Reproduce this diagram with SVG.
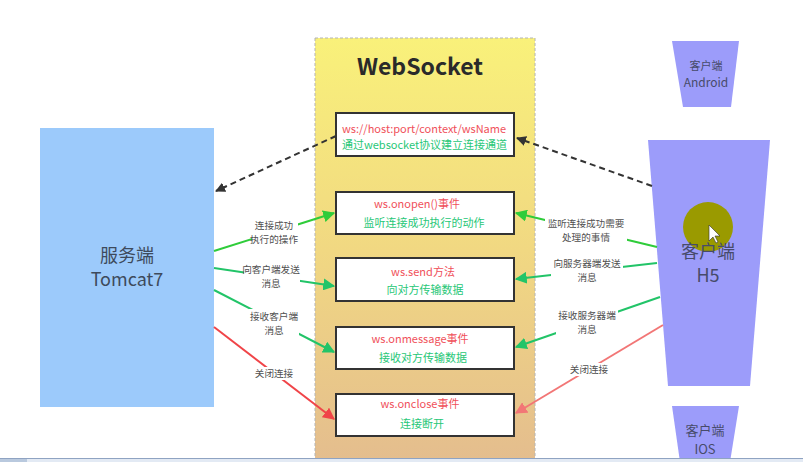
<svg xmlns="http://www.w3.org/2000/svg" width="803" height="462" viewBox="0 0 803 462">
<defs>
<linearGradient id="wsGrad" x1="0" y1="0" x2="0" y2="1">
<stop offset="0" stop-color="#f9f17a"/>
<stop offset="0.5" stop-color="#f1d882"/>
<stop offset="1" stop-color="#e4bd8e"/>
</linearGradient>
<marker id="aBlack" viewBox="0 0 10 10" refX="9" refY="5" markerWidth="5" markerHeight="5" orient="auto" markerUnits="strokeWidth"><path d="M0,0 L10,5 L0,10 z" fill="#333"/></marker>
<marker id="aGreen" viewBox="0 0 10 10" refX="9" refY="5" markerWidth="6" markerHeight="6" orient="auto" markerUnits="strokeWidth"><path d="M0,0 L10,5 L0,10 z" fill="#2fcc3a"/></marker>
<marker id="aTeal" viewBox="0 0 10 10" refX="9" refY="5" markerWidth="6" markerHeight="6" orient="auto" markerUnits="strokeWidth"><path d="M0,0 L10,5 L0,10 z" fill="#22c468"/></marker>
<marker id="aRed" viewBox="0 0 10 10" refX="9" refY="5" markerWidth="6" markerHeight="6" orient="auto" markerUnits="strokeWidth"><path d="M0,0 L10,5 L0,10 z" fill="#f04448"/></marker>
<marker id="aPink" viewBox="0 0 10 10" refX="9" refY="5" markerWidth="6" markerHeight="6" orient="auto" markerUnits="strokeWidth"><path d="M0,0 L10,5 L0,10 z" fill="#f27676"/></marker>
</defs>
<style>
text{font-family:"Noto Sans CJK SC","Noto Sans",sans-serif;}
.box{fill:#fff;stroke:#333;stroke-width:2;}
.red{fill:#f0505a;font-size:11px;text-anchor:middle;}
.grn{fill:#27c777;font-size:11px;text-anchor:middle;}
.lbl{fill:#505050;font-size:9.6px;text-anchor:middle;}
.client{fill:#9c9cfa;}
.ctext{fill:#474b6a;text-anchor:middle;}
.dash{stroke:#333;stroke-width:2;stroke-dasharray:6,4;fill:none;marker-end:url(#aBlack);}
.g1{stroke:#2fcc3a;stroke-width:2;fill:none;marker-end:url(#aGreen);}
.g2{stroke:#22c468;stroke-width:2;fill:none;marker-end:url(#aTeal);}
.r1{stroke:#f04448;stroke-width:2;fill:none;marker-end:url(#aRed);}
.r2{stroke:#f27676;stroke-width:2;fill:none;marker-end:url(#aPink);}
.bg{fill:#fff;}
</style>
<rect width="803" height="462" fill="#fff"/>

<g id="websocket">
<rect x="315" y="38" width="220" height="424" fill="url(#wsGrad)" stroke="#b4b4b4" stroke-width="1" stroke-dasharray="3,2"/>
<text x="420" y="75" text-anchor="middle" font-size="23" font-weight="bold" fill="#2a2a2a">WebSocket</text>
</g>

<g id="server">
<rect x="40" y="128" width="174" height="279" fill="#9ccafb"/>
<text x="127" y="262" text-anchor="middle" font-size="18" fill="#3e4a5c">服务端</text>
<text x="127" y="286" text-anchor="middle" font-size="18" fill="#3e4a5c">Tomcat7</text>
</g>

<g id="android">
<polygon class="client" points="672,41 739,41 731,107 683,107"/>
<text class="ctext" x="706" y="70" font-size="11">客户端</text>
<text class="ctext" x="706" y="87" font-size="12">Android</text>
</g>

<g id="h5">
<polygon class="client" points="648,140 770,140 750,386 668,386"/>
<circle cx="708" cy="227" r="25" fill="#9a9a00"/>
<polygon points="709,225 709,241 713,237 716,243 718,242 715,236 720,236" fill="#fff" stroke="#333" stroke-width="0.6"/>
<text class="ctext" x="708" y="258" font-size="18">客户端</text>
<text class="ctext" x="708" y="282" font-size="18">H5</text>
</g>

<g id="ios">
<polygon class="client" points="672,406 739,406 730,462 680,462"/>
<text class="ctext" x="705" y="435" font-size="13">客户端</text>
<text class="ctext" x="705" y="454" font-size="13">IOS</text>
</g>

<g id="connectors">
<line class="dash" x1="336" y1="136" x2="216" y2="191"/>
<line class="dash" x1="652" y1="186" x2="517" y2="138"/>

<line class="g1" x1="214" y1="251" x2="334" y2="213"/>
<line class="g2" x1="214" y1="268" x2="334" y2="286"/>
<line class="g2" x1="214" y1="290" x2="334" y2="352"/>
<line class="r1" x1="214" y1="327" x2="334" y2="419"/>

<line class="g1" x1="657" y1="247" x2="516" y2="213"/>
<line class="g2" x1="657" y1="263" x2="516" y2="279"/>
<line class="g2" x1="660" y1="297" x2="516" y2="347"/>
<line class="r2" x1="663" y1="325" x2="516" y2="413"/>

<rect class="bg" x="252" y="218" width="46" height="28"/>
<text class="lbl" x="274" y="228.5">连接成功</text>
<text class="lbl" x="274" y="242.5">执行的操作</text>
<rect class="bg" x="244" y="262" width="56" height="28"/>
<text class="lbl" x="271" y="272.5">向客户端发送</text>
<text class="lbl" x="271" y="286.5">消息</text>
<rect class="bg" x="249" y="309" width="50" height="28"/>
<text class="lbl" x="274" y="319.5">接收客户端</text>
<text class="lbl" x="274" y="333.5">消息</text>
<rect class="bg" x="254" y="367" width="40" height="13"/>
<text class="lbl" x="274" y="377">关闭连接</text>

<rect class="bg" x="545" y="216" width="82" height="28"/>
<text class="lbl" x="586" y="226.5">监听连接成功需要</text>
<text class="lbl" x="586" y="240.5">处理的事情</text>
<rect class="bg" x="551" y="256" width="72" height="28"/>
<text class="lbl" x="587" y="266.5">向服务器端发送</text>
<text class="lbl" x="587" y="280.5">消息</text>
<rect class="bg" x="556" y="308" width="62" height="28"/>
<text class="lbl" x="587" y="318.5">接收服务器端</text>
<text class="lbl" x="587" y="332.5">消息</text>
<rect class="bg" x="568" y="363" width="42" height="13"/>
<text class="lbl" x="589" y="373">关闭连接</text>
</g>

<g id="url">
<rect class="box" x="336" y="113" width="178" height="43"/>
<text class="red" x="342" y="133" style="text-anchor:start">ws://host:port/context/wsName</text>
<text class="grn" x="342" y="149" style="text-anchor:start">通过websocket协议建立连接通道</text>
</g>
<g id="onopen">
<rect class="box" x="336" y="192" width="178" height="42"/>
<text class="red" x="417" y="208">ws.onopen()事件</text>
<text class="grn" x="424" y="227">监听连接成功执行的动作</text>
</g>
<g id="send">
<rect class="box" x="336" y="258" width="178" height="43"/>
<text class="red" x="423" y="276">ws.send方法</text>
<text class="grn" x="425" y="294">向对方传输数据</text>
</g>
<g id="onmessage">
<rect class="box" x="336" y="327" width="178" height="42"/>
<text class="red" x="420" y="343">ws.onmessage事件</text>
<text class="grn" x="423" y="362">接收对方传输数据</text>
</g>
<g id="onclose">
<rect class="box" x="336" y="394" width="178" height="42"/>
<text class="red" x="420" y="408">ws.onclose事件</text>
<text class="grn" x="422" y="428">连接断开</text>
</g>

<g id="bottombar">
<rect x="0" y="458" width="803" height="4" fill="#e3eaf4"/>
<line x1="0" y1="458.5" x2="803" y2="458.5" stroke="#8fa3c2" stroke-width="1"/>
<rect x="0" y="459" width="27" height="3" fill="#b9c9de"/>
</g>
</svg>
